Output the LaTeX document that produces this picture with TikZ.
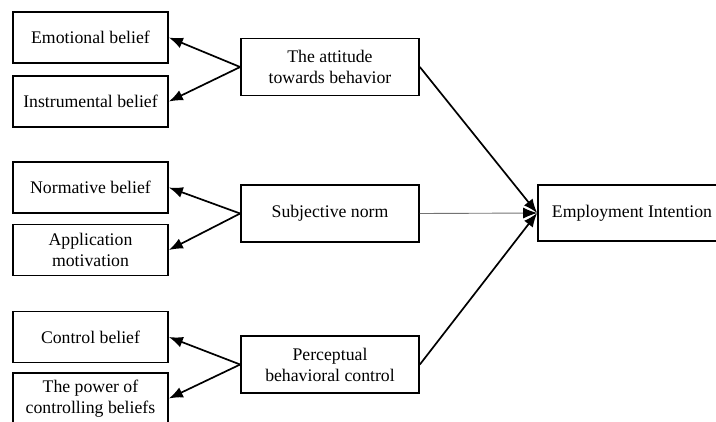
\documentclass[tikz,border=0pt]{standalone}
\usepackage{fontspec}
\setmainfont{Liberation Serif}
\usetikzlibrary{arrows.meta}

\begin{document}
\begin{tikzpicture}[
		x={(1bp,0bp)},
		y={(0bp,-1bp)},
		box/.style={draw=black,line width=1.7bp,align=center,inner sep=0pt,font=\fontsize{17.8}{21}\selectfont},
		lbox/.style={box,minimum width=155bp,minimum height=51bp},
		mbox/.style={box,minimum width=178bp,minimum height=57bp},
		arr/.style={-{Latex[length=14bp,width=11bp,color=black]},line width=1.7bp},
	]
		\useasboundingbox (0,0) rectangle (716,421);
		\clip (0,0) rectangle (716,421);
		
		% beliefs
		\node[lbox] (emo) at (90.5,37.5) {Emotional belief};
		\node[lbox] (ins) at (90.5,101.5) {Instrumental belief};
		\node[lbox] (nor) at (90.5,187.5) {Normative belief};
		\node[lbox] (app) at (90.5,250) {Application\\ motivation};
		\node[lbox] (con) at (90.5,337) {Control belief};
		\node[lbox] (pow) at (90.5,398.5) {The power of\\ controlling beliefs};
		
		% factors
		\node[mbox] (att) at (330,67) {The attitude\\ towards behavior};
		\node[mbox] (sub) at (330,213.5) {Subjective norm};
		\node[mbox] (per) at (330,364.5) {Perceptual\\ behavioral control};
		
		\node[box,minimum width=188bp,minimum height=56bp] (emp) at (632,213) {Employment Intention};
		
		\foreach \m/\l in {att/emo,att/ins,sub/nor,sub/app,per/con,per/pow}{
			\draw[arr] (\m.west) -- (\l.east);
		}
		
		\draw[arr,line width=0.9bp,draw=black!55] (sub.east) -- (emp.west);
		\draw[arr] (att.east) -- (emp.west);
		\draw[arr] (per.east) -- (emp.west);
	\end{tikzpicture}
\end{document}
